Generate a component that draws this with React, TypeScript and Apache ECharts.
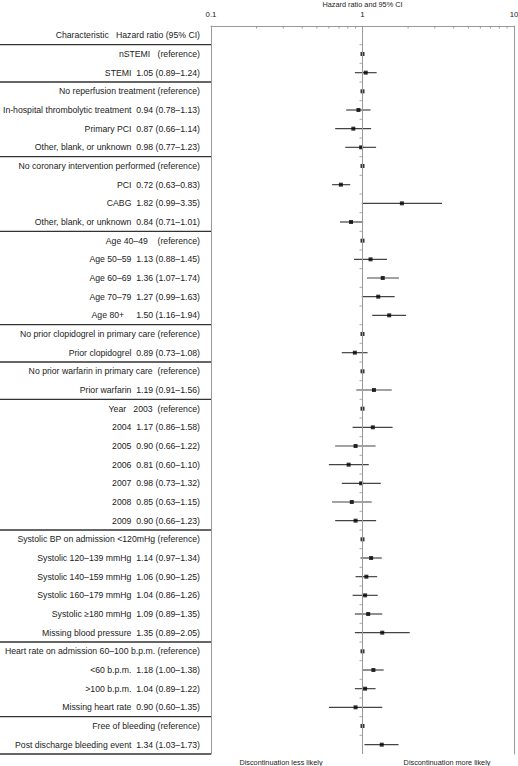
import React, { useEffect, useRef } from "react";
import * as echarts from "echarts";

const NB = "\u00a0";

// Row names (reference rows carry their own "(reference)" text)
const rowNames: string[] = [
  `nSTEMI${NB}${NB}${NB}(reference)`,
  "STEMI",
  "No reperfusion treatment (reference)",
  "In-hospital thrombolytic treatment",
  "Primary PCI",
  "Other, blank, or unknown",
  "No coronary intervention performed (reference)",
  "PCI",
  "CABG",
  "Other, blank, or unknown",
  `Age 40–49${NB}${NB}${NB}${NB}(reference)`,
  "Age 50–59",
  "Age 60–69",
  "Age 70–79",
  `Age 80+${NB}${NB}${NB}`,
  "No prior clopidogrel in primary care (reference)",
  "Prior clopidogrel",
  `No prior warfarin in primary care${NB}${NB}(reference)`,
  "Prior warfarin",
  `Year${NB}${NB}${NB}2003${NB}${NB}(reference)`,
  "2004",
  "2005",
  "2006",
  "2007",
  "2008",
  "2009",
  "Systolic BP on admission <120mHg (reference)",
  "Systolic 120–139 mmHg",
  "Systolic 140–159 mmHg",
  "Systolic 160–179 mmHg",
  "Systolic ≥180 mmHg",
  "Missing blood pressure",
  "Heart rate on admission 60–100 b.p.m. (reference)",
  "<60 b.p.m.",
  ">100 b.p.m.",
  "Missing heart rate",
  "Free of bleeding (reference)",
  "Post discharge bleeding event",
];

// Hazard ratios (reference rows = 1)
const hazardRatio: number[] = [
  1, 1.05, 1, 0.94, 0.87, 0.98, 1, 0.72, 1.82, 0.84, 1, 1.13, 1.36, 1.27, 1.5,
  1, 0.89, 1, 1.19, 1, 1.17, 0.9, 0.81, 0.98, 0.85, 0.9, 1, 1.14, 1.06, 1.04,
  1.09, 1.35, 1, 1.18, 1.04, 0.9, 1, 1.34,
];
const lowerCI: (number | null)[] = [
  null, 0.89, null, 0.78, 0.66, 0.77, null, 0.63, 0.99, 0.71, null, 0.88, 1.07,
  0.99, 1.16, null, 0.73, null, 0.91, null, 0.86, 0.66, 0.6, 0.73, 0.63, 0.66,
  null, 0.97, 0.9, 0.86, 0.89, 0.89, null, 1.0, 0.89, 0.6, null, 1.03,
];
const upperCI: (number | null)[] = [
  null, 1.24, null, 1.13, 1.14, 1.23, null, 0.83, 3.35, 1.01, null, 1.45, 1.74,
  1.63, 1.94, null, 1.08, null, 1.56, null, 1.58, 1.22, 1.1, 1.32, 1.15, 1.23,
  null, 1.34, 1.25, 1.26, 1.35, 2.05, null, 1.38, 1.22, 1.35, null, 1.73,
];

const headerLabel = `Characteristic${NB}${NB}${NB}Hazard ratio (95% CI)`;
// Group separators: after these category indices (0 = header row)
const separatorsAfter: number[] = [0, 2, 6, 10, 15, 17, 19, 26, 32, 36, 38];
const minorTickValues: number[] = [0.2, 0.3, 0.4, 0.5, 0.6, 0.7, 0.8, 0.9, 2, 3, 4, 5, 6, 7, 8, 9];
const bottomLabels: string[] = ["Discontinuation less likely", "Discontinuation more likely"];
const axisTitle = "Hazard ratio and 95% CI";

const FONT = "Liberation Sans, Arial, Helvetica, sans-serif";
const FS = 7.3;
const FS_TABLE = 8.7;

export default function App() {
  const ref = useRef<HTMLDivElement>(null);

  useEffect(() => {
    if (!ref.current) return;
    const chart = echarts.init(ref.current, undefined, { renderer: "svg" });

    const fmt = (v: number) => v.toFixed(2);
    const rowLabels = rowNames.map((n, i) =>
      lowerCI[i] == null
        ? n
        : `${n}${NB}${NB}${fmt(hazardRatio[i])} (${fmt(lowerCI[i] as number)}–${fmt(upperCI[i] as number)})`
    );
    const categories = [headerLabel, ...rowLabels];
    const catIdx = categories.map((_, i) => i);

    const ciData: number[][] = [];
    rowNames.forEach((_, i) => {
      if (lowerCI[i] != null) ciData.push([i + 1, lowerCI[i] as number, upperCI[i] as number]);
    });
    const markerData = hazardRatio.map((v, i) => [v, i + 1]);
    const tickRows = catIdx.slice(0, categories.length - 1);

    const gridTop = 26;
    const gridHeight = 728;

    chart.setOption({
      animation: false,
      textStyle: { fontFamily: FONT },
      grid: [
        { left: 0, width: 211, top: gridTop, height: gridHeight, containLabel: false, outerBoundsMode: "none" },
        { left: 211, right: 4, top: gridTop, height: gridHeight, containLabel: false, outerBoundsMode: "none" },
      ],
      xAxis: [
        { gridIndex: 0, type: "value", min: 0, max: 1, show: false },
        {
          gridIndex: 1,
          type: "log",
          logBase: 10,
          min: 0.1,
          max: 10,
          position: "top",
          axisLine: { show: true, lineStyle: { color: "#999", width: 1 } },
          axisTick: { show: false },
          splitLine: { show: false },
          axisLabel: {
            fontSize: FS + 0.5,
            color: "#222",
            margin: 8,
            fontFamily: FONT,
            formatter: (v: number) => (v < 1 ? "0.1" : String(Math.round(v))),
          },
          name: axisTitle,
          nameLocation: "middle",
          nameGap: 18,
          nameMoveOverlap: false,
          nameTextStyle: { fontSize: FS, color: "#222", fontFamily: FONT },
        },
      ],
      yAxis: [
        {
          gridIndex: 0,
          type: "category",
          inverse: true,
          position: "right",
          data: categories,
          axisLine: { show: false },
          axisTick: { show: false },
          axisLabel: {
            inside: true,
            interval: 0,
            margin: 11,
            fontSize: FS_TABLE,
            color: "#222",
            fontFamily: FONT,
          },
        },
        {
          gridIndex: 1,
          type: "category",
          inverse: true,
          position: "left",
          data: catIdx,
          axisLine: { show: true, lineStyle: { color: "#999", width: 1 } },
          axisTick: { show: false },
          axisLabel: { show: false },
        },
        {
          gridIndex: 1,
          type: "category",
          inverse: true,
          position: "right",
          data: catIdx,
          axisLine: { show: true, lineStyle: { color: "#999", width: 1 } },
          axisTick: { show: false },
          axisLabel: { show: false },
        },
      ],
      series: [
        {
          type: "custom",
          name: "separators",
          xAxisIndex: 0,
          yAxisIndex: 0,
          silent: true,
          data: separatorsAfter.map((i) => [0, i]),
          encode: { x: 0, y: 1 },
          renderItem: (params: any, api: any) => {
            const idx = api.value(1);
            const p0 = api.coord([0, idx]);
            const p1 = api.coord([1, idx]);
            const h = api.size([0, 1])[1];
            const y = p0[1] + h / 2;
            return {
              type: "line",
              shape: { x1: p0[0], y1: y, x2: p1[0], y2: y },
              style: { stroke: "#333", lineWidth: 1.3 },
            };
          },
        },
        {
          type: "custom",
          name: "minorTicks",
          xAxisIndex: 1,
          yAxisIndex: 1,
          silent: true,
          clip: false,
          data: minorTickValues.map((v) => [v, 0]),
          encode: { x: 0, y: 1 },
          renderItem: (params: any, api: any) => {
            const p = api.coord([api.value(0), 0]);
            const h = api.size([0, 1])[1];
            const y = p[1] - h / 2;
            return {
              type: "line",
              shape: { x1: p[0], y1: y, x2: p[0], y2: y + 2.5 },
              style: { stroke: "#999", lineWidth: 1 },
            };
          },
        },
        {
          type: "custom",
          name: "refTicks",
          xAxisIndex: 1,
          yAxisIndex: 1,
          silent: true,
          data: tickRows.map((i) => [1, i]),
          encode: { x: 0, y: 1 },
          renderItem: (params: any, api: any) => {
            const p = api.coord([1, api.value(1)]);
            const h = api.size([0, 1])[1];
            const y = p[1] + h / 2;
            return {
              type: "line",
              shape: { x1: p[0] - 3, y1: y, x2: p[0], y2: y },
              style: { stroke: "#aaa", lineWidth: 1 },
            };
          },
        },
        {
          type: "custom",
          name: "CI",
          xAxisIndex: 1,
          yAxisIndex: 1,
          silent: true,
          data: ciData,
          encode: { y: 0, x: [1, 2] },
          renderItem: (params: any, api: any) => {
            const row = api.value(0);
            const a = api.coord([api.value(1), row]);
            const b = api.coord([api.value(2), row]);
            return {
              type: "line",
              shape: { x1: a[0], y1: a[1], x2: b[0], y2: b[1] },
              style: { stroke: "#444", lineWidth: 1.2 },
            };
          },
        },
        {
          type: "scatter",
          name: "HR",
          xAxisIndex: 1,
          yAxisIndex: 1,
          symbol: "rect",
          symbolSize: 4,
          itemStyle: { color: "#000" },
          silent: true,
          data: markerData,
          markLine: {
            silent: true,
            symbol: "none",
            label: { show: false },
            lineStyle: { color: "#999", type: "solid", width: 1 },
            data: [{ xAxis: 1 }],
          },
        },
      ],
      graphic: [
        {
          type: "text",
          x: 281,
          y: 762,
          style: {
            text: bottomLabels[0],
            fontSize: FS,
            fontFamily: FONT,
            fill: "#222",
            align: "center",
            verticalAlign: "middle",
          },
        },
        {
          type: "text",
          x: 447,
          y: 762,
          style: {
            text: bottomLabels[1],
            fontSize: FS,
            fontFamily: FONT,
            fill: "#222",
            align: "center",
            verticalAlign: "middle",
          },
        },
      ],
    });

    return () => chart.dispose();
  }, []);

  return (
    <div
      ref={ref}
      style={{ position: "absolute", left: 0, top: 0, width: 518, height: 766 }}
    />
  );
}
